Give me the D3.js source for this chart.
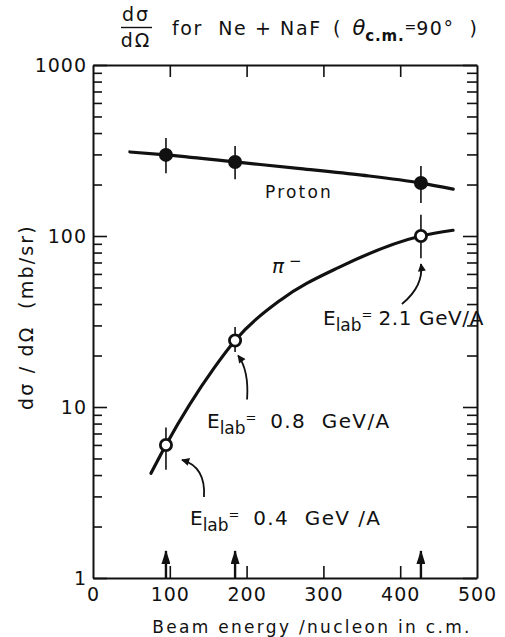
<!DOCTYPE html>
<html>
<head>
<meta charset="utf-8">
<script src="https://cdn.jsdelivr.net/npm/d3@7"></script>
<style>
  html, body { margin: 0; padding: 0; background: #fff; }
  svg { display: block; }
  text { font-family: "DejaVu Sans", sans-serif; fill: #111; white-space: pre; }
  .axis path, .axis line { stroke: #111; }
  .axis text { font-size: 19px; fill: #111; }
</style>
</head>
<body>
<script>
// Beam energy per nucleon in the c.m. frame (MeV)
const energies = [95, 185, 427];
const labEnergies = ["0.4", "0.8", "2.1"];

// Measured cross sections dσ/dΩ (mb/sr) at θc.m. = 90°
const protonValues = [298, 271, 204];
const protonLow    = [233, 215, 156];
const protonHigh   = [374, 336, 257];

const pionValues = [6.0, 24.5, 100];
const pionLow    = [4.3, 21, 74];
const pionHigh   = [7.6, 29.4, 133];

// Hand-drawn trend curves through the data
const protonCurveX = [48, 95, 185, 270, 350, 427, 469];
const protonCurveY = [310, 298, 271, 248, 227, 204, 188];
const pionCurveX = [75.5, 95, 158, 185, 243.5, 321.6, 427, 468.8];
const pionCurveY = [4.1, 6.0, 17, 24.5, 42, 66, 100, 108];

// Axis ticks
const xTicks = [0, 100, 200, 300, 400, 500];
const yDecades = [1, 10, 100, 1000];
const yMinor = [];
for (const d of [1, 10, 100]) for (let k = 2; k <= 9; k++) yMinor.push(d * k);

const W = 505, H = 637;
const x = d3.scaleLinear().domain([0, 500]).range([93, 477]);
const y = d3.scaleLog().domain([1, 1000]).range([578, 65]);

const svg = d3.select("body").append("svg").attr("width", W).attr("height", H);

// arrowheads
const defs = svg.append("defs");
defs.append("marker")
  .attr("id", "head").attr("viewBox", "0 0 10 10")
  .attr("refX", 9).attr("refY", 5)
  .attr("markerWidth", 9).attr("markerHeight", 8)
  .attr("markerUnits", "userSpaceOnUse")
  .attr("orient", "auto")
  .append("path").attr("d", "M0,0 L10,5 L0,10 Z").attr("fill", "#111");
defs.append("marker")
  .attr("id", "bighead").attr("viewBox", "0 0 14 9")
  .attr("refX", 13).attr("refY", 4.5)
  .attr("markerWidth", 14).attr("markerHeight", 9)
  .attr("markerUnits", "userSpaceOnUse")
  .attr("orient", "auto")
  .append("path").attr("d", "M0,0 L14,4.5 L0,9 Z").attr("fill", "#111");

// --- axes ---
const xIn = xTicks.filter(v => v > 0 && v < 500);

svg.append("g").attr("class", "axis")
  .attr("transform", `translate(0,${y(1)})`)
  .call(d3.axisBottom(x).tickValues(xTicks).tickSizeInner(-12).tickSizeOuter(0).tickPadding(10).tickFormat(d3.format("d")))
  .call(g => g.selectAll(".tick line").filter(d => d === 0 || d === 500).remove())
  .call(g => g.select(".domain").attr("stroke-width", 2))
  .call(g => g.selectAll(".tick line").attr("stroke-width", 1.6))
  .call(g => g.selectAll("text").attr("letter-spacing", "1px"));

svg.append("g").attr("class", "axis")
  .attr("transform", `translate(0,${y(1000)})`)
  .call(d3.axisTop(x).tickValues(xIn).tickSizeInner(-12).tickSizeOuter(0).tickFormat(""))
  .call(g => g.select(".domain").attr("stroke-width", 2))
  .call(g => g.selectAll(".tick line").attr("stroke-width", 1.6));

// left axis: decades with labels, minor ticks without
svg.append("g").attr("class", "axis")
  .attr("transform", `translate(${x(0)},0)`)
  .call(d3.axisLeft(y).tickValues(yDecades).tickSizeInner(-14).tickSizeOuter(0).tickPadding(6).tickFormat(d3.format("d")))
  .call(g => g.select(".domain").attr("stroke-width", 2))
  .call(g => g.selectAll(".tick line").attr("stroke-width", 1.6))
  .call(g => g.selectAll("text").attr("letter-spacing", "1px"));
svg.append("g").attr("class", "axis")
  .attr("transform", `translate(${x(0)},0)`)
  .call(d3.axisLeft(y).tickValues(yMinor).tickSizeInner(-9).tickSizeOuter(0).tickFormat(""))
  .call(g => g.select(".domain").remove())
  .call(g => g.selectAll(".tick line").attr("stroke-width", 1.6));

// right axis
svg.append("g").attr("class", "axis")
  .attr("transform", `translate(${x(500)},0)`)
  .call(d3.axisRight(y).tickValues(yDecades).tickSizeInner(-14).tickSizeOuter(0).tickFormat(""))
  .call(g => g.select(".domain").attr("stroke-width", 2))
  .call(g => g.selectAll(".tick line").attr("stroke-width", 1.6));
svg.append("g").attr("class", "axis")
  .attr("transform", `translate(${x(500)},0)`)
  .call(d3.axisRight(y).tickValues(yMinor).tickSizeInner(-10).tickSizeOuter(0).tickFormat(""))
  .call(g => g.select(".domain").remove())
  .call(g => g.selectAll(".tick line").attr("stroke-width", 1.6));

// --- curves ---
const line = d3.line().x(d => x(d[0])).y(d => y(d[1])).curve(d3.curveMonotoneX);
svg.append("path")
  .attr("d", line(d3.zip(protonCurveX, protonCurveY)))
  .attr("fill", "none").attr("stroke", "#111").attr("stroke-width", 3.2).attr("stroke-linecap", "round");
svg.append("path")
  .attr("d", line(d3.zip(pionCurveX, pionCurveY)))
  .attr("fill", "none").attr("stroke", "#111").attr("stroke-width", 3.2).attr("stroke-linecap", "round");

// --- error bars ---
function errorBars(lo, hi) {
  svg.append("g").selectAll("line").data(energies).join("line")
    .attr("x1", d => x(d)).attr("x2", d => x(d))
    .attr("y1", (d, i) => y(lo[i])).attr("y2", (d, i) => y(hi[i]))
    .attr("stroke", "#111").attr("stroke-width", 1.6);
}
errorBars(protonLow, protonHigh);
errorBars(pionLow, pionHigh);

// --- markers ---
svg.append("g").selectAll("circle").data(energies).join("circle")
  .attr("cx", d => x(d)).attr("cy", (d, i) => y(protonValues[i]))
  .attr("r", 7).attr("fill", "#111");
svg.append("g").selectAll("circle").data(energies).join("circle")
  .attr("cx", d => x(d)).attr("cy", (d, i) => y(pionValues[i]))
  .attr("r", 5.6).attr("fill", "#fff").attr("stroke", "#111").attr("stroke-width", 2.8);

// --- beam energy arrows on the x axis ---
svg.append("g").selectAll("line").data(energies).join("line")
  .attr("x1", d => x(d)).attr("x2", d => x(d))
  .attr("y1", y(1)).attr("y2", y(1) - 27)
  .attr("stroke", "#111").attr("stroke-width", 2.4)
  .attr("marker-end", "url(#bighead)");

// --- curve labels ---
svg.append("text").attr("x", 265).attr("y", 198)
  .attr("font-size", 17).attr("letter-spacing", "2.2px").text("Proton");
const pi = svg.append("text").attr("x", 272).attr("y", 273).attr("font-size", 20);
pi.append("tspan").attr("font-style", "italic").text("π");
pi.append("tspan").attr("dx", 5).attr("dy", -7).attr("font-size", 15).text("−");

// --- E_lab annotations with curved arrows ---
const notes = [
  { i: 0, lx: 190, ly: 525, lead: " ", gap: "  ", unit: "GeV /A", ls: 1.4, tail: [38, 52], ctrl: [40, 22], head: [16, 15] },
  { i: 1, lx: 207, ly: 428, lead: " ", gap: "  ", unit: "GeV/A", ls: 1.4, tail: [12, 59], ctrl: [14, 30], head: [3, 15] },
  { i: 2, lx: 323, ly: 325, lead: "", gap: " ", unit: "GeV/A", ls: 0.6, tail: [-19, 68], ctrl: [3, 50], head: [0, 28] }
];
for (const n of notes) {
  const px = x(energies[n.i]), py = y(pionValues[n.i]);
  const p = d3.path();
  p.moveTo(px + n.tail[0], py + n.tail[1]);
  p.quadraticCurveTo(px + n.ctrl[0], py + n.ctrl[1], px + n.head[0], py + n.head[1]);
  svg.append("path").attr("d", p.toString())
    .attr("fill", "none").attr("stroke", "#111").attr("stroke-width", 1.8)
    .attr("marker-end", "url(#head)");
  const t = svg.append("text").attr("x", n.lx).attr("y", n.ly).attr("font-size", 20);
  t.append("tspan").text("E");
  t.append("tspan").attr("dy", 6).attr("font-size", 17).text("lab");
  t.append("tspan").attr("dy", -12).attr("font-size", 13).text("=");
  t.append("tspan").attr("dy", 6).attr("dx", 6).attr("letter-spacing", n.ls + "px")
    .text(n.lead + labEnergies[n.i] + n.gap + n.unit);
}

// --- axis titles ---
svg.append("text").attr("x", 312).attr("y", 633).attr("text-anchor", "middle")
  .attr("font-size", 17).attr("letter-spacing", "2.3px")
  .text("Beam energy /nucleon in c.m.");

svg.append("text")
  .attr("transform", "translate(33,317) rotate(-90)")
  .attr("text-anchor", "middle").attr("font-size", 19).attr("letter-spacing", "2.2px")
  .text("dσ / dΩ  (mb/sr)");

// --- title ---
const tg = svg.append("g");
tg.append("text").attr("x", 136).attr("y", 21).attr("text-anchor", "middle").attr("font-size", 19).attr("letter-spacing", "2px").text("dσ");
tg.append("line").attr("x1", 121).attr("x2", 152).attr("y1", 27.5).attr("y2", 27.5).attr("stroke", "#111").attr("stroke-width", 1.4);
tg.append("text").attr("x", 136).attr("y", 47).attr("text-anchor", "middle").attr("font-size", 19).attr("letter-spacing", "2px").text("dΩ");
tg.append("text").attr("x", 172).attr("y", 35).attr("font-size", 19).attr("letter-spacing", "1.6px")
  .text("for  Ne + NaF");
const th = tg.append("text").attr("x", 333).attr("y", 35).attr("font-size", 19);
th.append("tspan").text("(  ");
th.append("tspan").attr("font-style", "italic").attr("font-size", 21).text("θ");
th.append("tspan").attr("dy", 6).attr("font-size", 15).attr("font-weight", "bold").attr("letter-spacing", "0.8px").text("c.m.");
th.append("tspan").attr("dy", -9).attr("font-size", 14).text("=");
th.append("tspan").attr("dy", 3).attr("letter-spacing", "1.5px").text("90°  )");
</script>
</body>
</html>
